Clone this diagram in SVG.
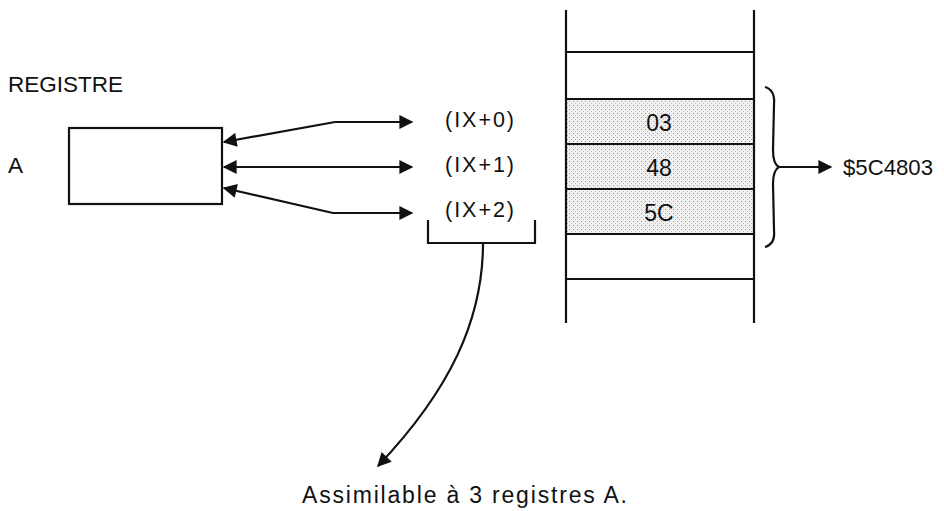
<svg xmlns="http://www.w3.org/2000/svg" width="944" height="511" viewBox="0 0 944 511">
<style>
.t{font-family:"Liberation Sans",Arial,sans-serif;fill:#111;}
.ln{stroke:#111;stroke-width:2.2;fill:none;}
</style>
<defs>
<marker id="ah" viewBox="0 0 10 10" refX="9" refY="5" markerWidth="15" markerHeight="14" markerUnits="userSpaceOnUse" orient="auto-start-reverse">
<path d="M0,0 L10,5 L0,10 z" fill="#111"/>
</marker>
<pattern id="dots" width="4" height="4" patternUnits="userSpaceOnUse">
<rect width="4" height="4" fill="#f1f1f1"/>
<rect x="1" y="1" width="1" height="1" fill="#9a9a9a"/>
<rect x="3" y="3" width="1" height="1" fill="#bcbcbc"/>
</pattern>
</defs>
<rect width="944" height="511" fill="#fff"/>

<g id="register-label">
<text class="t" x="8" y="92" font-size="22.5">REGISTRE</text>
<text class="t" x="8" y="173" font-size="22.5">A</text>
</g>
<g id="register-A">
<rect x="69" y="128" width="153" height="76" class="ln"/>
</g>

<g id="memory">
<rect x="566" y="99" width="188" height="135" fill="url(#dots)"/>
<line x1="566" y1="10" x2="566" y2="323" class="ln"/>
<line x1="754" y1="10" x2="754" y2="323" class="ln"/>
<line x1="566" y1="52" x2="754" y2="52" class="ln"/>
<line x1="566" y1="99" x2="754" y2="99" class="ln"/>
<line x1="566" y1="144" x2="754" y2="144" class="ln"/>
<line x1="566" y1="189" x2="754" y2="189" class="ln"/>
<line x1="566" y1="234" x2="754" y2="234" class="ln"/>
<line x1="566" y1="279" x2="754" y2="279" class="ln"/>
</g>
<g id="cell-03"><text class="t" x="659" y="131" font-size="23" text-anchor="middle">03</text></g>
<g id="cell-48"><text class="t" x="659" y="176" font-size="23" text-anchor="middle">48</text></g>
<g id="cell-5C"><text class="t" x="659" y="221" font-size="23" text-anchor="middle">5C</text></g>

<g id="ix0"><text class="t" x="445" y="127" font-size="21.5" textLength="69" lengthAdjust="spacing">(IX+0)</text></g>
<g id="ix1"><text class="t" x="445" y="172" font-size="21.5" textLength="69" lengthAdjust="spacing">(IX+1)</text></g>
<g id="ix2"><text class="t" x="445" y="217" font-size="21.5" textLength="69" lengthAdjust="spacing">(IX+2)</text></g>

<g id="value"><text class="t" x="843" y="175" font-size="22.5" textLength="90" lengthAdjust="spacingAndGlyphs">$5C4803</text></g>

<g id="note"><text class="t" x="302" y="503" font-size="23" textLength="325" lengthAdjust="spacing">Assimilable à 3 registres A.</text></g>

<g id="brace">
<path d="M765,87 C772,89 775,95 774,105 L773,150 C773,160 775,165 779,167 C775,169 773,174 773,184 L774,230 C775,240 772,245 765,247" class="ln" stroke-width="3"/>
</g>

<g id="connectors">
<path d="M335,122 L224,142" class="ln" marker-end="url(#ah)"/>
<path d="M335,122 L412,122" class="ln" marker-end="url(#ah)"/>
<path d="M224,167 L412,167" class="ln" marker-start="url(#ah)" marker-end="url(#ah)"/>
<path d="M333,213 L224,188" class="ln" marker-end="url(#ah)"/>
<path d="M333,213 L412,213" class="ln" marker-end="url(#ah)"/>
<path d="M779,167 L831,167" class="ln" marker-end="url(#ah)"/>
<path d="M428,220 V243 H535 V220" class="ln"/>
<path d="M483,243 C483,320 450,390 378,466" class="ln" marker-end="url(#ah)"/>
</g>
</svg>
